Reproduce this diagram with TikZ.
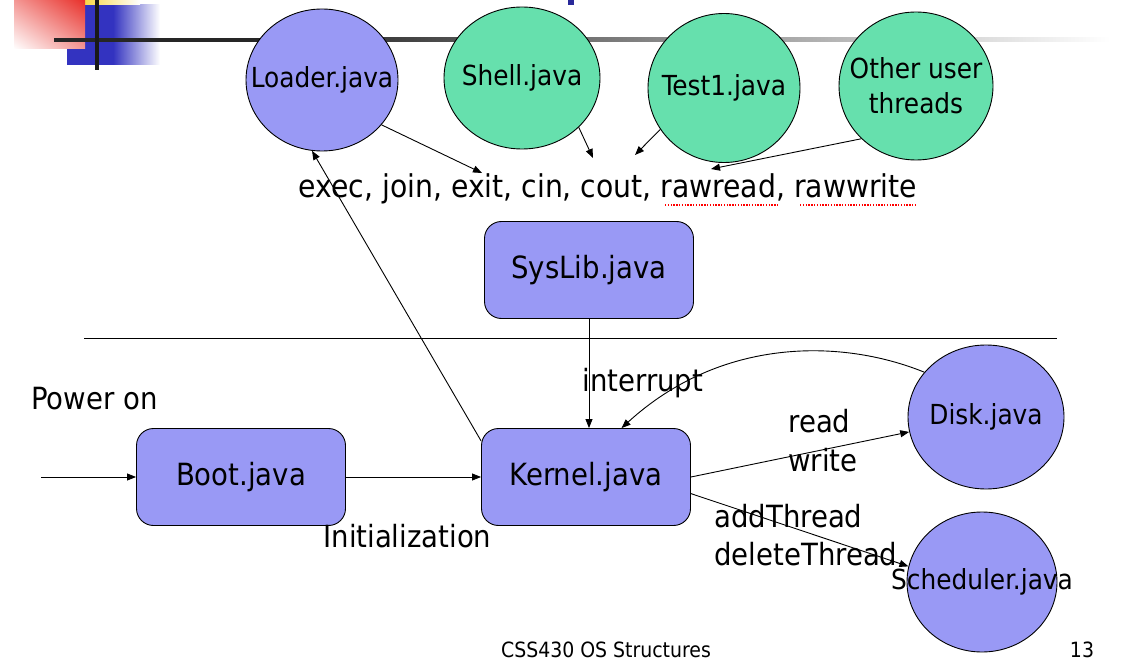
\documentclass[tikz,border=0pt]{standalone}
\usepackage{fontspec}
\setmainfont{DejaVu Sans Condensed}
\usetikzlibrary{arrows.meta,positioning,calc,shapes.geometric,shadings}

\definecolor{procblue}{HTML}{9999F5}
\definecolor{procgreen}{HTML}{66E0AD}
\definecolor{decored}{HTML}{E8302A}
\definecolor{decoblue}{HTML}{3333C0}
\definecolor{decoyellow}{HTML}{F8D84A}
\newcommand\bigtxt{\fontsize{30.6}{38.5}\selectfont}
\newcommand\calltxt{\fontsize{31.4}{38.5}\selectfont}
\newcommand\midtxt{\fontsize{27.6}{35}\selectfont}
\newcommand\foottxt{\fontsize{21}{25}\selectfont}

\begin{document}
\begin{tikzpicture}[x=1pt,y=-1pt,>={Triangle[length=9pt,width=7pt]},line width=0.9pt,
    every label/.style={font=\midtxt,align=center,inner sep=0pt}]
  \tikzstyle{box}=[draw,fill=procblue,rounded corners=17pt,minimum width=209pt,minimum height=97pt,font=\bigtxt]
  \tikzstyle{proc}=[draw,ellipse,fill=procblue,inner sep=0pt,minimum width=152pt,minimum height=142pt]
  \tikzstyle{txt}=[anchor=base west,font=\bigtxt,inner sep=0pt]
  \useasboundingbox (0,0) rectangle (1140,660);

  % slide decoration
  \fill[decoblue] (67,5) rectangle (113,65);
  \shade[left color=decoblue,right color=white] (113,5) rectangle (160,65);
  \shade[left color=decoyellow,right color=white] (85,0) rectangle (140,5);
  \shade[upper right=decored,lower left=white,upper left=decored!50!white,lower right=decored!50!white] (14,0) rectangle (85,49);
  \fill[black!85] (54,38) rectangle (300,42);
  \shade[left color=black!85,right color=white] (300,38) rectangle (1110,42);
  \fill[black!90] (95,0) rectangle (99,70);
  \fill[decoblue!80!black] (568,0) rectangle (574,5);

  % user threads
  \node[proc,label={center:Loader.java}] (loader) at (322,80) {};
  \node[proc,fill=procgreen,minimum width=156pt,label={center:Shell.java}] (shell) at (522,78) {};
  \node[proc,fill=procgreen,minimum height=149pt,label={center:Test1.java}] (test) at (724,88) {};
  \node[proc,fill=procgreen,minimum width=154pt,minimum height=148pt,label={center:Other user\\threads}] (other) at (916,86) {};

  \node[anchor=base,font=\calltxt,inner sep=0pt] (calls) at (608,198) {exec, join, exit, cin, cout, rawread, rawwrite};
  \draw[red,line width=1.4pt,dash pattern=on 1.4pt off 1.4pt] (665,205) -- (779,205) (800,205) -- (917,205);
  \coordinate (c1) at (482,173);
  \coordinate (c2) at (593,158);
  \coordinate (c3) at (635,155);
  \coordinate (c4) at (711,169);
  \draw[->] (loader.-37) -- (c1);
  \draw[->] (shell.-41) -- (c2);
  \draw[->] (test.213) -- (c3);
  \draw[->] (other.224) -- (c4);

  \node[box] (syslib) at (589,270) {SysLib.java};
  \draw (84,338) -- (1057,338);

  % kernel side
  \node[txt] (power) at (31,409) {Power on};
  \node[box] (boot) at (241,477) {Boot.java};
  \node[box] (kernel) at (586,477) {Kernel.java};
  \node[proc,minimum width=156pt,minimum height=144pt,label={center:Disk.java}] (disk) at (986,417) {};
  \node[proc,minimum width=150pt,minimum height=140pt,label={center:Scheduler.java}] (sched) at (982,582) {};
  \node[txt] (init) at (323,547) {Initialization};
  \node[txt] (intr) at (582,391) {interrupt};
  \node[txt] (rd) at (788,432) {read};
  \node[txt] (wr) at (788,471) {write};
  \node[txt] (addt) at (714,527) {addThread};
  \node[txt] (delt) at (714,565) {deleteThread};

  \coordinate (pwr) at (41,477);
  \draw[->] (pwr) -- (boot);
  \draw[->] (boot) -- (kernel);
  \draw[->] (syslib.south) -- (syslib.south |- kernel.north);
  \draw[->] (kernel.161) -- (loader.262);
  \draw[->] (disk.144) .. controls (840,338) and (720,338) .. (kernel.54);
  \draw[->] (kernel.east) -- (disk.191);
  \draw[->] (kernel.-9) -- (sched.168);

  \node[anchor=base,font=\foottxt,inner sep=0pt] (foot) at (606,657) {CSS430 OS Structures};
  \node[anchor=base,font=\foottxt,inner sep=0pt] (page) at (1082,657) {13};
\end{tikzpicture}
\end{document}
